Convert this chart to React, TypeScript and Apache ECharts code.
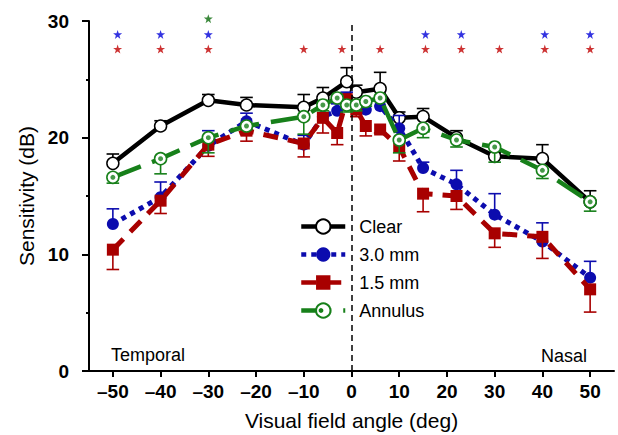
import React, { useEffect, useRef } from "react";
import * as echarts from "echarts";

// ---------- data ----------
const xTicks = [-50, -40, -30, -20, -10, 0, 10, 20, 30, 40, 50];

const clearX = [-50, -40, -30, -22, -10, -6, -1, 1, 6, 10, 15, 22, 30, 40, 50];
const clearY = [17.8, 21.0, 23.2, 22.8, 22.6, 23.4, 24.8, 23.9, 24.2, 21.7, 21.8, 20.0, 18.4, 18.2, 14.5];
const clearErr = [0.8, 0.45, 0.5, 0.65, 1.1, 0.9, 1.2, 0.6, 1.4, 0.5, 0.7, 0.6, 0.3, 1.2, 0.95];

const blueX = [-50, -40, -30, -22, -10, -6, -3, -1, 1, 3, 6, 10, 15, 22, 30, 40, 50];
const blueY = [12.6, 14.9, 19.3, 21.4, 19.4, 21.8, 22.3, 23.4, 22.6, 22.4, 22.7, 20.8, 17.4, 16.0, 13.4, 11.1, 8.0];
const blueErr = [1.3, 1.3, 1.3, 0.7, 0.8, 0.8, 0.6, 0.5, 0.5, 0.5, 0.6, 1.1, 0.5, 1.2, 1.8, 1.6, 1.4];

const redX = [-50, -40, -30, -22, -10, -6, -3, -1, 1, 3, 6, 10, 15, 22, 30, 40, 50];
const redY = [10.4, 14.6, 19.4, 20.6, 19.5, 21.7, 20.4, 23.3, 22.4, 21.0, 20.7, 19.2, 15.2, 15.0, 11.8, 11.5, 7.0];
const redErr = [1.7, 1.1, 1.0, 0.9, 1.15, 1.3, 1.0, 0.4, 0.6, 0.85, 0.3, 1.2, 1.55, 1.15, 1.2, 1.85, 1.95];

const greenX = [-50, -40, -30, -22, -10, -6, -3, -1, 1, 3, 6, 10, 15, 22, 30, 40, 50];
const greenY = [16.6, 18.2, 20.0, 21.0, 21.8, 22.8, 23.4, 22.8, 22.8, 23.1, 23.4, 19.8, 20.8, 19.8, 19.2, 17.2, 14.5];
const greenErr = [0.5, 1.3, 1.3, 0.3, 1.5, 0.5, 0.3, 0.6, 0.5, 0.4, 0.3, 1.1, 0.8, 0.6, 1.3, 0.7, 0.8];

const redStarX = [-49, -40, -30, -10, -2, 6, 15.5, 23, 31, 40.5, 50];
const blueStarX = [-49, -40, -30, 15.5, 23, 40.5, 50];
const greenStarX = [-30];
const redStarLevel = 27.6;
const blueStarLevel = 28.85;
const greenStarLevel = 30.2;

// ---------- styles ----------
const BLACK = "#000000";
const BLUE = "#0c0cae";
const RED = "#a80000";
const GREEN = "#17801a";
const STAR_RED = "#c00000";
const STAR_BLUE = "#0000d8";
const STAR_GREEN = "#0a6a0a";
const FONT = "Liberation Sans, Arial, Helvetica, sans-serif";
const STAR =
  "path://M50,0 L61.8,35.3 L98.1,35.3 L68.8,57.1 L79.4,92.7 L50,71.3 L20.6,92.7 L31.2,57.1 L1.9,35.3 L38.2,35.3 Z";

const pairs = (xs: number[], ys: number[]) => xs.map((x, i) => [x, ys[i]]);

const errorSeries = (
  name: string,
  xs: number[],
  ys: number[],
  errs: number[],
  dir: number,
  color: string,
  z: number
) => ({
  type: "custom",
  name,
  z,
  silent: true,
  data: xs.map((x, i) => [x, ys[i], ys[i] + dir * errs[i]]),
  encode: { x: 0, y: [1, 2] },
  renderItem: (_params: any, api: any) => {
    const p0 = api.coord([api.value(0), api.value(1)]);
    const p1 = api.coord([api.value(0), api.value(2)]);
    return {
      type: "group",
      children: [
        {
          type: "line",
          shape: { x1: p0[0], y1: p0[1], x2: p1[0], y2: p1[1] },
          style: { stroke: color, lineWidth: 1.6 },
        },
        {
          type: "line",
          shape: { x1: p1[0] - 6.3, y1: p1[1], x2: p1[0] + 6.3, y2: p1[1] },
          style: { stroke: color, lineWidth: 1.6 },
        },
      ],
    };
  },
});

const starSeries = (name: string, xs: number[], level: number, color: string) => ({
  type: "scatter",
  name,
  z: 6,
  clip: false,
  silent: true,
  symbol: STAR,
  symbolSize: 9,
  itemStyle: { color },
  data: xs.map((x) => [x, level]),
});

export default function App() {
  const ref = useRef<HTMLDivElement>(null);

  useEffect(() => {
    if (!ref.current) return;
    const chart = echarts.init(ref.current, null, { renderer: "svg" });

    const option: any = {
      animation: false,
      textStyle: { fontFamily: FONT, color: BLACK },
      grid: {
        left: 89,
        right: 4,
        top: 21,
        bottom: 64,
        containLabel: false,
        outerBoundsMode: "none",
      },
      legend: {
        data: ["Clear", "3.0 mm", "1.5 mm", "Annulus"],
        orient: "vertical",
        left: 299,
        top: 216.5,
        padding: 0,
        itemWidth: 44,
        itemHeight: 18,
        itemGap: 8,
        selectedMode: false,
        lineStyle: { width: 4.5 },
        textStyle: { fontSize: 18, color: BLACK, fontFamily: FONT, lineHeight: 20, padding: [0, 0, 0, 9] },
      },
      xAxis: {
        type: "value",
        min: -55,
        max: 55,
        splitLine: { show: false },
        axisLine: { show: true, onZero: false, lineStyle: { color: BLACK, width: 2 } },
        axisTick: { show: true, customValues: xTicks, length: 6, lineStyle: { color: BLACK, width: 2 } },
        axisLabel: {
          customValues: xTicks,
          formatter: (v: number) => (v < 0 ? "\u2013" + Math.abs(v) : String(v)),
          fontWeight: "bold",
          fontSize: 19,
          color: BLACK,
          margin: 11,
          fontFamily: FONT,
        },
        name: "Visual field angle (deg)",
        nameLocation: "middle",
        nameGap: 39,
        nameTextStyle: { fontSize: 21, color: BLACK, fontFamily: FONT },
      },
      yAxis: {
        type: "value",
        min: 0,
        max: 30,
        interval: 10,
        splitLine: { show: false },
        axisLine: { show: true, onZero: false, lineStyle: { color: BLACK, width: 2 } },
        axisTick: { show: true, length: 7, lineStyle: { color: BLACK, width: 2 } },
        minorTick: { show: true, splitNumber: 2, length: 3, lineStyle: { color: BLACK, width: 2 } },
        axisLabel: { fontWeight: "bold", fontSize: 19, color: BLACK, margin: 20, fontFamily: FONT },
        name: "Sensitivity (dB)",
        nameLocation: "middle",
        nameGap: 51,
        nameRotate: 90,
        nameTextStyle: { fontSize: 21, color: BLACK, fontFamily: FONT },
      },
      graphic: [
        {
          type: "text",
          left: 111,
          top: 346,
          style: { text: "Temporal", fontSize: 18, fill: BLACK, fontFamily: FONT },
        },
        {
          type: "text",
          left: 541,
          top: 347,
          style: { text: "Nasal", fontSize: 18, fill: BLACK, fontFamily: FONT },
        },
        {
          type: "circle",
          shape: { cx: 321, cy: 310.5, r: 2.4 },
          style: { fill: GREEN },
          z: 100,
        },
      ],
      series: [
        {
          type: "scatter",
          name: "zeroLine",
          z: 1,
          silent: true,
          data: [],
          markLine: {
            silent: true,
            symbol: "none",
            label: { show: false },
            lineStyle: { color: BLACK, width: 1.5, type: [6, 4] },
            data: [{ xAxis: 0 }],
          },
        },
        errorSeries("errClear", clearX, clearY, clearErr, 1, BLACK, 2),
        {
          type: "line",
          name: "Clear",
          z: 2,
          data: pairs(clearX, clearY),
          symbol: "circle",
          symbolSize: 12,
          showAllSymbol: true,
          lineStyle: { color: BLACK, width: 4.5 },
          itemStyle: { color: "#ffffff", borderColor: BLACK, borderWidth: 1.5 },
          emphasis: { disabled: true },
        },
        errorSeries("errBlue", blueX, blueY, blueErr, 1, BLUE, 3),
        {
          type: "line",
          name: "3.0 mm",
          z: 3,
          data: pairs(blueX, blueY),
          symbol: "circle",
          symbolSize: 12,
          showAllSymbol: true,
          lineStyle: { color: BLUE, width: 5, type: [5, 5] },
          itemStyle: { color: BLUE },
          emphasis: { disabled: true },
        },
        errorSeries("errRed", redX, redY, redErr, -1, RED, 4),
        {
          type: "line",
          name: "1.5 mm",
          z: 4,
          data: pairs(redX, redY),
          symbol: "rect",
          symbolSize: 12,
          showAllSymbol: true,
          lineStyle: { color: RED, width: 5, type: [15, 10] },
          itemStyle: { color: RED },
          emphasis: { disabled: true },
        },
        errorSeries("errGreen", greenX, greenY, greenErr, -1, GREEN, 5),
        {
          type: "line",
          name: "Annulus",
          z: 5,
          data: pairs(greenX, greenY),
          symbol: "circle",
          symbolSize: 12,
          showAllSymbol: true,
          lineStyle: { color: GREEN, width: 4.5, type: [30, 12] },
          itemStyle: { color: "#ffffff", borderColor: GREEN, borderWidth: 1.6 },
          emphasis: { disabled: true },
        },
        {
          type: "scatter",
          name: "annulusDot",
          z: 5,
          silent: true,
          symbol: "circle",
          symbolSize: 5,
          itemStyle: { color: GREEN },
          data: pairs(greenX, greenY),
        },
        starSeries("starRed", redStarX, redStarLevel, STAR_RED),
        starSeries("starBlue", blueStarX, blueStarLevel, STAR_BLUE),
        starSeries("starGreen", greenStarX, greenStarLevel, STAR_GREEN),
      ],
    };

    chart.setOption(option);
    return () => chart.dispose();
  }, []);

  return (
    <div
      ref={ref}
      style={{ position: "fixed", left: 0, top: 0, width: 618, height: 435, background: "#ffffff" }}
    />
  );
}
